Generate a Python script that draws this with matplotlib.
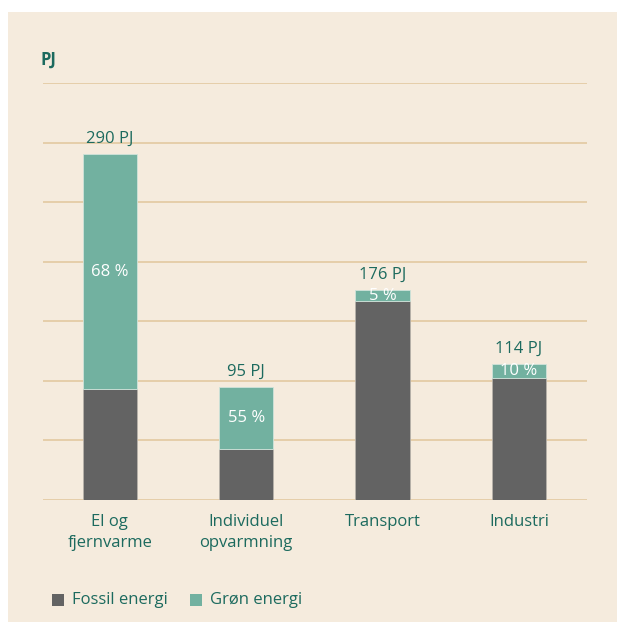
import matplotlib.pyplot as plt
import numpy as np
from matplotlib.patches import Rectangle

# ===== Data =====
categories = ["El og\nfjernvarme", "Individuel\nopvarmning", "Transport", "Industri"]
totals = [290, 95, 176, 114]          # PJ
green_share = [68, 55, 5, 10]         # percent

# ===== Style =====
BG = "#F5EBDD"
GRID = "#E2C9A0"
FOSSIL = "#636363"
GREEN = "#72B1A0"
TEAL = "#1C6A5E"
plt.rcParams['font.family'] = ['Open Sans', 'DejaVu Sans']

totals = np.array(totals, dtype=float)
green = totals * np.array(green_share) / 100
fossil = totals - green
x = np.arange(len(categories))

W, H = 617, 622
fig = plt.figure(figsize=(W / 100, H / 100), dpi=100)
fig.patch.set_facecolor("white")
fig.patches.append(Rectangle((8 / W, 0), 1 - 8 / W, 1 - 12 / H, transform=fig.transFigure,
                             facecolor=BG, edgecolor="none", zorder=-5))

ax = fig.add_axes([43 / W, (H - 500) / H, (587 - 43) / W, (500 - 83) / H])
ax.set_facecolor("none")

ax.bar(x, fossil, width=0.4, color=FOSSIL, edgecolor="#B8B2AA", linewidth=0.6, zorder=3)
ax.bar(x, green, width=0.4, bottom=fossil, color=GREEN, edgecolor="#CFE3DA", linewidth=0.6, zorder=3)

for i in range(len(x)):
    ax.text(x[i], totals[i] + 6, f"{int(totals[i])} PJ", ha="center", va="bottom",
            fontsize=12, color=TEAL)
    ax.text(x[i], fossil[i] + green[i] / 2, f"{green_share[i]} %", ha="center", va="center",
            fontsize=12, color="white", zorder=4)

ax.set_xlim(-0.49, 3.5)
ax.set_ylim(0, 350)
ax.set_yticks(np.arange(0, 351, 50))
ax.set_yticklabels([])
ax.tick_params(axis="y", length=0)
ax.grid(axis="y", color=GRID, linewidth=1.2, zorder=0)
ax.set_xticks(x)
ax.set_xticklabels(categories, fontsize=12, color=TEAL, linespacing=1.45)
ax.tick_params(axis="x", length=0, pad=10)
for spine in ax.spines.values():
    spine.set_visible(False)

fig.text(41 / W, 1 - 60 / H, "PJ", fontsize=12, fontweight="bold", color=TEAL, va="center")

# legend
fig.patches.append(Rectangle((52 / W, 1 - 606 / H), 12 / W, 12 / H, transform=fig.transFigure,
                             facecolor=FOSSIL, edgecolor="none"))
fig.text(72 / W, 1 - 600 / H, "Fossil energi", fontsize=12, color=TEAL, va="center")
fig.patches.append(Rectangle((190 / W, 1 - 606 / H), 12 / W, 12 / H, transform=fig.transFigure,
                             facecolor=GREEN, edgecolor="none"))
fig.text(210 / W, 1 - 600 / H, "Grøn energi", fontsize=12, color=TEAL, va="center")

fig.savefig("out.png", dpi=100)
